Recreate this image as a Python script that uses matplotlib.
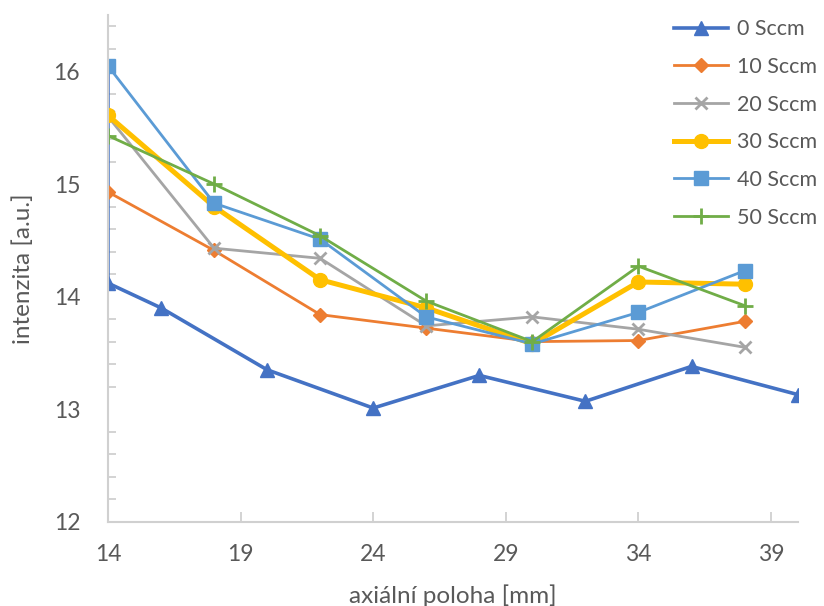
import matplotlib.pyplot as plt
from matplotlib.ticker import MultipleLocator

plt.rcParams['font.family'] = ['Lato', 'DejaVu Sans']

# data
x0 = [14, 14, 16, 20, 24, 28, 32, 36, 40]
y0 = [16.05, 14.12, 13.90, 13.35, 13.01, 13.30, 13.07, 13.38, 13.13]
x_all = [14, 18, 22, 26, 30, 34, 38]
y10 = [14.93, 14.41, 13.84, 13.72, 13.60, 13.61, 13.78]
y20 = [15.60, 14.43, 14.34, 13.74, 13.82, 13.71, 13.55]
y30 = [15.61, 14.80, 14.15, 13.90, 13.58, 14.13, 14.11]
y40 = [16.05, 14.83, 14.51, 13.82, 13.58, 13.86, 14.23]
y50 = [15.43, 15.00, 14.54, 13.96, 13.60, 14.27, 13.92]
labels = ['0 Sccm', '10 Sccm', '20 Sccm', '30 Sccm', '40 Sccm', '50 Sccm']

fig = plt.figure(figsize=(8.24, 6.06), dpi=100)
ax = fig.add_axes([0.131, 0.139, 0.837, 0.836])

ax.plot(x0, y0, color='#4472C4', lw=2.6, marker='^', ms=10, markevery=list(range(1, len(x0))), label=labels[0])
ax.plot(x_all, y10, color='#ED7D31', lw=2.0, marker='D', ms=7, label=labels[1])
ax.plot(x_all, y20, color='#A5A5A5', lw=2.0, marker='x', ms=9, mew=2, label=labels[2])
ax.plot(x_all, y30, color='#FFC000', lw=3.6, marker='o', ms=10, label=labels[3])
ax.plot(x_all, y40, color='#5B9BD5', lw=2.0, marker='s', ms=10, label=labels[4])
ax.plot(x_all, y50, color='#70AD47', lw=2.0, marker='+', ms=11, mew=2, label=labels[5])

ax.set_xlim(14, 40)
ax.set_ylim(12, 16.5)
ax.set_xticks([14, 19, 24, 29, 34, 39])
ax.set_yticks([12, 13, 14, 15, 16])
ax.yaxis.set_minor_locator(MultipleLocator(0.2))

for s in ['top', 'right']:
    ax.spines[s].set_visible(False)
for s in ['left', 'bottom']:
    ax.spines[s].set_color('#D0D0D0')
    ax.spines[s].set_linewidth(1.5)
ax.tick_params(axis='both', which='both', direction='in', colors='#D0D0D0', labelcolor='#595959', labelsize=16.5)
ax.tick_params(axis='x', length=7, width=1.3, pad=16)
ax.tick_params(axis='y', which='major', length=0, pad=20)
ax.tick_params(axis='y', which='minor', length=6, width=1.3)

ax.set_xlabel('axiální poloha [mm]', fontsize=17.5, color='#595959', labelpad=14)
ax.set_ylabel('intenzita [a.u.]', fontsize=17.5, color='#595959', labelpad=14)

leg = fig.legend(loc='upper right', bbox_to_anchor=(1.015, 1.0), frameon=False, fontsize=15.5,
                 labelcolor='#595959', handlelength=2.5, labelspacing=0.82, handletextpad=0.4)

fig.savefig('out.png', dpi=100)
